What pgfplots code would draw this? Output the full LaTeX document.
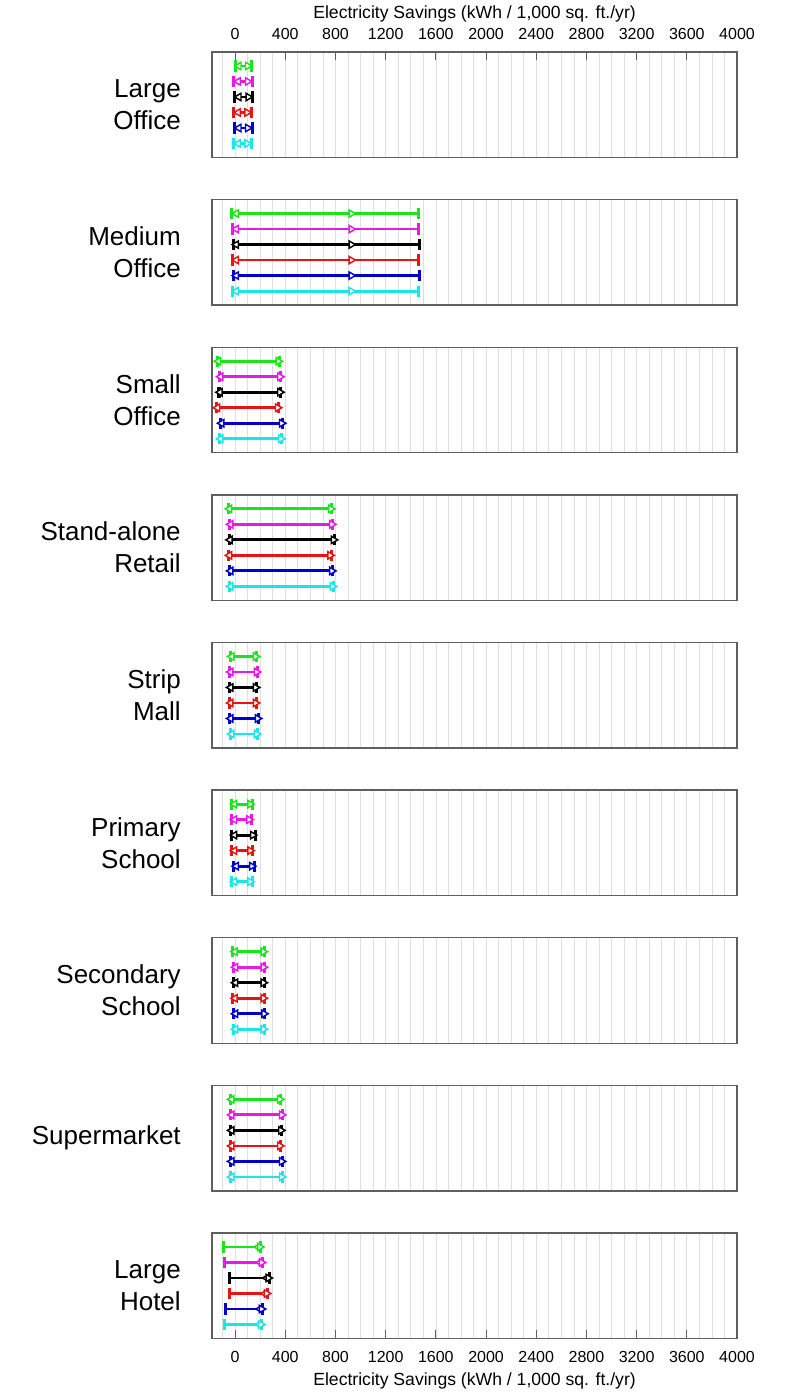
\documentclass[border=0pt]{standalone}
\usepackage{fontspec}
\setmainfont{Liberation Sans}
\usepackage{pgfplots}
\pgfplotsset{compat=1.18}
\definecolor{colG}{RGB}{25,230,25}
\definecolor{colM}{RGB}{230,25,230}
\definecolor{colK}{RGB}{0,0,0}
\definecolor{colR}{RGB}{230,20,20}
\definecolor{colB}{RGB}{0,0,200}
\definecolor{colC}{RGB}{25,230,230}
\definecolor{frmcol}{RGB}{95,95,95}
% one row: colour, y, low, left-triangle, right-triangle, high
\newcommand{\rr}[6]{%
 \addplot[color=#1, line width=2.1pt, mark=|, mark size=4.2pt, mark options={line width=2.3pt}] coordinates {(#3,#2) (#6,#2)};
 \addplot[color=#1, only marks, mark=triangle*, mark size=3.2pt, mark options={rotate=90, fill=white, line width=1.1pt}] coordinates {(#4,#2)};
 \addplot[color=#1, only marks, mark=triangle*, mark size=3.2pt, mark options={rotate=-90, fill=white, line width=1.1pt}] coordinates {(#5,#2)};}
\pgfplotsset{panel/.style={width=393.75pt, height=79.1pt, scale only axis,
  xmin=-184, xmax=4000, ymin=0.1, ymax=6.9, ytick=\empty,
  xtick={0,400,...,4000}, xticklabel={\relax}, major tick length=0pt,
  minor xtick={-100,0,...,3900}, xminorgrids, minor grid style={gray!25, line width=0.5pt},
  minor tick length=0pt, axis line style={frmcol, line width=1pt}, clip=false, anchor=north west,
  scaled x ticks=false,
  /pgf/number format/1000 sep={}, /pgf/number format/assume math mode=true,
  tick label style={font=\fontsize{12}{14}\selectfont},
  tick style={frmcol, line width=0.8pt}},
  edge/.style={xticklabel={\pgfmathprintnumber{\tick}}, major tick length=6pt, xticklabel shift=6pt}}
\tikzset{lab/.style={anchor=east, align=right, font=\fontsize{19.5}{24}\selectfont, inner sep=0pt}}
\begin{document}
\begin{tikzpicture}
\useasboundingbox (0,0) rectangle (600pt,-1044.75pt);
\node[font=\fontsize{13.2}{15}\selectfont] at (355.9pt,-10.5pt) {Electricity Savings (kWh / 1,000 sq. ft./yr)};
\node[font=\fontsize{13.2}{15}\selectfont] at (355.9pt,-1036pt) {Electricity Savings (kWh / 1,000 sq. ft./yr)};
% Large Office
\begin{axis}[panel, at={(159pt,-39pt)}, edge, xtick pos=right, xticklabel pos=right]
\rr{colG}{6}{0}{30}{100}{133}
\rr{colM}{5}{-10}{25}{100}{138}
\rr{colK}{4}{-5}{30}{105}{140}
\rr{colR}{3}{-10}{25}{95}{130}
\rr{colB}{2}{-5}{30}{100}{138}
\rr{colC}{1}{-10}{25}{95}{132}
\node[lab] at (rel axis cs:0,0.5) [xshift=-23.25pt] {Large\\Office};
\end{axis}
% Medium Office
\begin{axis}[panel, at={(159pt,-149.7pt)}]
\rr{colG}{6}{-27}{10}{925}{1459}
\rr{colM}{5}{-21}{10}{925}{1464}
\rr{colK}{4}{-11}{10}{925}{1472}
\rr{colR}{3}{-21}{10}{925}{1464}
\rr{colB}{2}{-11}{10}{925}{1472}
\rr{colC}{1}{-21}{10}{925}{1464}
\node[lab] at (rel axis cs:0,0.5) [xshift=-23.25pt] {Medium\\Office};
\end{axis}
% Small Office
\begin{axis}[panel, at={(159pt,-260.44pt)}]
\rr{colG}{6}{-141}{-133}{344}{352}
\rr{colM}{5}{-123}{-115}{357}{365}
\rr{colK}{4}{-128}{-120}{357}{365}
\rr{colR}{3}{-149}{-141}{339}{347}
\rr{colB}{2}{-115}{-107}{371}{379}
\rr{colC}{1}{-123}{-115}{365}{373}
\node[lab] at (rel axis cs:0,0.5) [xshift=-23.25pt] {Small\\Office};
\end{axis}
% Stand-alone Retail
\begin{axis}[panel, at={(159pt,-371.17pt)}]
\rr{colG}{6}{-53}{-45}{763}{771}
\rr{colM}{5}{-43}{-35}{771}{779}
\rr{colK}{4}{-48}{-40}{784}{792}
\rr{colR}{3}{-53}{-45}{757}{765}
\rr{colB}{2}{-43}{-35}{771}{779}
\rr{colC}{1}{-43}{-35}{776}{784}
\node[lab] at (rel axis cs:0,0.5) [xshift=-23.25pt] {Stand-alone\\Retail};
\end{axis}
% Strip Mall
\begin{axis}[panel, at={(159pt,-481.875pt)}]
\rr{colG}{6}{-35}{-27}{163}{171}
\rr{colM}{5}{-43}{-35}{171}{179}
\rr{colK}{4}{-43}{-35}{163}{171}
\rr{colR}{3}{-43}{-35}{163}{171}
\rr{colB}{2}{-43}{-35}{179}{187}
\rr{colC}{1}{-35}{-27}{171}{179}
\node[lab] at (rel axis cs:0,0.5) [xshift=-23.25pt] {Strip\\Mall};
\end{axis}
% Primary School
\begin{axis}[panel, at={(159pt,-592.6pt)}]
\rr{colG}{6}{-29}{-4}{119}{139}
\rr{colM}{5}{-29}{-4}{111}{131}
\rr{colK}{4}{-29}{-4}{140}{160}
\rr{colR}{3}{-29}{-4}{119}{139}
\rr{colB}{2}{-16}{9}{132}{152}
\rr{colC}{1}{-29}{-4}{119}{139}
\node[lab] at (rel axis cs:0,0.5) [xshift=-23.25pt] {Primary\\School};
\end{axis}
% Secondary School
\begin{axis}[panel, at={(159pt,-703.3pt)}]
\rr{colG}{6}{-21}{0}{225}{232}
\rr{colM}{5}{-16}{4}{225}{232}
\rr{colK}{4}{-16}{4}{225}{232}
\rr{colR}{3}{-21}{0}{225}{232}
\rr{colB}{2}{-16}{4}{230}{237}
\rr{colC}{1}{-16}{4}{225}{232}
\node[lab] at (rel axis cs:0,0.5) [xshift=-23.25pt] {Secondary\\School};
\end{axis}
% Supermarket
\begin{axis}[panel, at={(159pt,-814.05pt)}]
\rr{colG}{6}{-35}{-27}{357}{365}
\rr{colM}{5}{-35}{-27}{371}{379}
\rr{colK}{4}{-35}{-27}{365}{373}
\rr{colR}{3}{-35}{-27}{357}{365}
\rr{colB}{2}{-35}{-27}{371}{379}
\rr{colC}{1}{-35}{-27}{371}{379}
\node[lab] at (rel axis cs:0,0.5) [xshift=-23.25pt] {Supermarket};
\end{axis}
% Large Hotel
\begin{axis}[panel, at={(159pt,-924.75pt)}, edge, xtick pos=left, xticklabel pos=left]
\rr{colG}{6}{-96}{185}{197}{205}
\rr{colM}{5}{-88}{199}{211}{219}
\rr{colK}{4}{-43}{252}{264}{272}
\rr{colR}{3}{-48}{239}{251}{259}
\rr{colB}{2}{-80}{199}{211}{219}
\rr{colC}{1}{-88}{193}{205}{213}
\node[lab] at (rel axis cs:0,0.5) [xshift=-23.25pt] {Large\\Hotel};
\end{axis}
\end{tikzpicture}
\end{document}
